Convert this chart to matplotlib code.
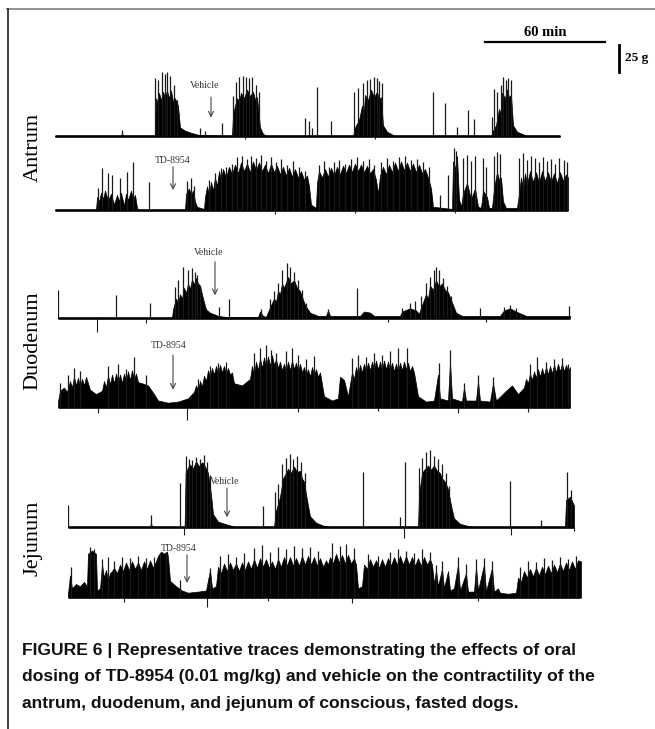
import matplotlib
matplotlib.use("Agg")
from matplotlib import pyplot as plt
from matplotlib.lines import Line2D

# figure size in pixels and scale of the recordings
W, H = 655, 729
PX_PER_MIN = 2.0
PX_PER_G = 1.08
T_MAX = 260
G_LOW, G_HIGH = -15, 75

# ---- data: (time min, force g) ----
# dense envelope of contractions, isolated spikes, downward deflections

ant_veh_len = 252.5
ant_veh_env = [(0, 0), (33, 0), (33.5, 3), (34, 0), (50, 0), (50.5, 35), (51.5, 30), (52, 40), (53, 33),
               (54, 41), (55, 36), (56, 42), (57, 35), (58, 42), (59, 32), (60, 35), (61.5, 28), (62.5, 8),
               (65, 5), (68, 3), (72, 1), (88.5, 0), (89, 20), (90, 28), (91, 35), (92, 32), (93, 40),
               (94.5, 35), (96, 43), (97.5, 37), (99, 41), (100, 34), (101, 36), (102.5, 8), (104, 2),
               (106, 0), (149, 0), (150, 8), (152, 15), (153.5, 28), (154.5, 24), (155, 38), (156.5, 33),
               (158, 43), (159.5, 36), (161, 41), (162, 34), (163, 36), (164, 10), (166, 4), (170, 0),
               (218, 0), (219, 5), (220.5, 10), (222, 25), (223, 20), (223.5, 40), (225, 35), (226, 43),
               (227, 36), (228, 38), (229, 10), (231, 4), (236, 0), (252.5, 0)]
ant_veh_spk = [(33.5, 5.5), (50, 54), (51.5, 52), (53.5, 59), (55, 57), (56, 59), (57.5, 56), (59.5, 47),
               (61, 33), (72.5, 7), (75, 5), (83.5, 12), (89, 37), (90.5, 50), (92, 55), (94, 56), (95.5, 55),
               (97, 54), (98.5, 55), (100.5, 47), (102, 41), (125, 17), (127, 14), (128.5, 7), (131, 45),
               (138, 14), (149.5, 41), (151.5, 44), (154, 49), (156, 52), (157.5, 53), (159.5, 55), (161, 54),
               (162, 51), (163.5, 49), (189, 41), (195, 30.5), (201, 8), (206.5, 24), (209.5, 16),
               (218.5, 17.6), (219.5, 43.5), (221, 41), (223, 47), (224, 55), (225.5, 52), (226.5, 53.7),
               (228, 52)]
ant_veh_dip = [(95, -3), (160, -3)]

ant_td_len = 256.5
ant_td_env = [(0, 0), (20.5, 0), (21, 12), (22, 8), (23, 16), (24, 10), (25, 18), (26.5, 9), (28, 15),
              (29.5, 5), (31, 14), (32, 8), (33, 16), (34.5, 4), (35.5, 15), (36.5, 9), (38, 18), (39, 10),
              (40, 14), (41, 2), (42, 0), (65, 0), (65.5, 15), (67, 20), (68, 14), (69, 18), (70, 8),
              (71, 3), (74.5, 1), (75, 12), (76, 22), (77, 14), (78, 26), (79, 18), (80, 30), (81, 22),
              (82, 36), (83, 28), (84, 38), (85.5, 30), (87, 40), (88.5, 33), (90, 42), (91.5, 34), (93, 44),
              (94.5, 36), (96, 43), (97.5, 35), (99, 45), (100.5, 37), (102, 44), (103.5, 36), (105, 42),
              (106.5, 34), (108, 43), (109.5, 35), (111, 41), (112.5, 33), (114, 40), (115.5, 32), (117, 39),
              (118.5, 31), (120, 38), (121.5, 30), (123, 36), (124.5, 28), (126, 32), (127, 22), (128, 5),
              (130.5, 2), (131, 25), (132, 36), (133.5, 30), (135, 38), (136.5, 31), (138, 39), (139.5, 32),
              (141, 40), (142.5, 33), (144, 41), (145.5, 34), (147, 42), (148.5, 35), (150, 43),
              (151.5, 36), (153, 42), (154.5, 35), (156, 41), (157.5, 34), (159, 38), (160.5, 28),
              (161.5, 15), (162.5, 32), (164, 40), (165.5, 33), (167, 42), (168.5, 35), (170, 44),
              (171.5, 36), (173, 45), (174.5, 37), (176, 44), (177.5, 36), (179, 43), (180.5, 35), (182, 42),
              (183.5, 34), (185, 38), (186.5, 30), (188, 20), (189, 3), (198.5, 1), (199, 45), (200, 38),
              (201, 50), (202, 10), (203, 3), (204, 15), (206, 25), (208, 10), (210, 20), (211.5, 3), (213, 2),
              (214, 18), (216, 12), (217, 2), (218.5, 2), (219.5, 20), (221, 35), (222, 28), (223, 30),
              (224, 8), (225.5, 2), (231, 2), (232, 15), (233, 30), (234, 20), (235, 34), (236, 24),
              (237.5, 36), (239, 26), (240.5, 35), (242, 25), (243.5, 36), (245, 27), (246.5, 35), (248, 26),
              (249.5, 34), (251, 25), (252.5, 35), (254, 27), (255.5, 33), (256.5, 30)]
ant_td_spk = [(21.5, 20), (23.5, 39), (26.5, 34), (28.5, 32), (32.5, 30), (36, 35), (39, 44), (47, 26),
              (66, 27), (68, 30), (69.5, 22), (77, 28), (80, 34), (83, 39), (85.5, 40), (88.5, 43), (91, 49),
              (93.5, 50), (96, 47), (98, 50), (100.5, 48), (103, 51), (105.5, 45), (108, 49), (110.5, 44),
              (113, 47), (116, 42), (119, 45), (122, 40), (125, 36), (132, 42), (134.5, 45), (137, 40),
              (139.5, 44), (142, 46), (145, 43), (148, 47), (151, 49), (154, 45), (157, 47), (159.5, 42),
              (163, 44), (166, 48), (169, 45), (172, 49), (175, 50), (178, 46), (181, 47), (184, 44),
              (187, 40), (192.5, 14), (196.5, 32), (199.5, 57), (200.5, 55), (204, 48), (206, 51), (208, 45),
              (210, 50), (214, 48), (215.5, 40), (219.5, 50), (221, 54), (222.5, 52), (232, 48), (234, 53),
              (236, 46), (238, 50), (240, 48), (242, 44), (244, 49), (246, 45), (248, 47), (250, 43),
              (252, 48), (254.5, 46), (256, 44)]
ant_td_dip = [(110, -4), (150, -3), (200, -3)]

duo_veh_len = 256
duo_veh_env = [(0, 0), (57, 0), (57.5, 8), (59, 18), (60, 14), (61, 22), (62, 18), (63, 28), (64, 23),
               (65, 32), (66, 27), (67, 36), (68, 31), (69, 37), (70, 32), (71, 30), (72.5, 18), (74, 8),
               (76, 5), (80, 2), (84, 1), (100, 1), (101, 6), (102.5, 2), (104, 1), (106, 10), (108, 18),
               (109, 15), (110, 25), (111, 22), (112, 32), (113, 28), (115, 38), (116.5, 32), (118, 35),
               (119.5, 28), (121, 25), (123.5, 12), (126, 5), (130, 2), (134, 2), (135, 7), (136, 2), (151, 2),
               (153, 6), (156, 5), (158, 2), (171, 2), (172, 6), (176, 9), (179, 7), (180.5, 4), (182, 12),
               (184, 22), (185, 18), (186, 30), (187.5, 26), (189, 35), (190.5, 29), (192, 32), (193.5, 26),
               (195, 24), (197.5, 12), (199, 5), (202, 2), (221, 2), (223, 7), (226, 9), (229, 6), (234, 2),
               (256, 2)]
duo_veh_spk = [(0, 26), (29, 21), (46, 14), (58.5, 29), (60, 35), (62.5, 47), (65, 44), (67, 46), (68.5, 43),
               (69.5, 40), (71, 30), (80.5, 10), (85.5, 18), (101.5, 8), (106, 18), (108, 25), (110, 32),
               (112, 44), (114.5, 51), (116, 47), (118, 43), (120, 35), (122, 26), (124, 14), (135, 8),
               (149.5, 28), (172, 9), (176, 14), (178.5, 16), (181.5, 20), (184, 32), (186, 38), (188, 44),
               (189, 47), (190.5, 44), (192.5, 37), (194.5, 30), (196.5, 20), (211, 9), (223, 10), (226, 12),
               (229, 9), (255.5, 11)]
duo_veh_dip = [(19.5, -13), (44, -5), (165, -4), (214, -4)]

duo_td_len = 256
duo_td_env = [(0, 5), (1, 15), (3, 18), (4.5, 14), (6, 24), (7, 18), (8, 28), (9, 20), (10, 27), (11, 19),
              (12, 26), (13, 20), (14, 28), (15, 22), (16, 16), (19, 12), (22, 15), (23, 24), (24, 18),
              (25, 29), (26, 21), (27, 30), (28, 22), (29, 31), (30, 23), (31, 30), (32, 22), (33, 31),
              (34, 24), (35, 33), (36, 25), (37, 34), (38, 26), (39, 31), (40, 23), (42, 22), (45, 20),
              (48, 12), (50, 6), (55, 4), (60, 5), (65, 8), (68, 14), (69, 20), (70, 16), (71, 24), (72, 19),
              (73, 29), (74, 24), (75, 34), (76, 28), (77, 36), (78, 30), (79, 38), (80, 31), (81, 39),
              (82, 32), (83, 38), (84, 31), (85, 36), (86, 30), (87, 32), (88, 22), (92, 20), (96, 26),
              (97, 38), (98, 30), (99, 42), (100, 34), (101, 45), (102, 36), (103, 46), (104, 37), (105, 47),
              (106, 38), (107, 48), (108, 39), (109, 44), (110, 36), (111, 42), (112, 34), (113, 40),
              (114, 33), (115, 42), (116, 34), (117, 43), (118, 35), (119, 41), (120, 33), (121, 40),
              (122, 32), (123, 37), (124, 30), (125, 35), (126, 28), (127, 37), (128, 30), (129, 35),
              (130, 28), (131, 32), (133, 10), (137, 6), (140, 8), (141, 28), (143, 25), (145, 10), (147, 32),
              (148, 26), (149, 37), (150, 30), (151, 39), (152, 32), (153, 40), (154, 33), (155, 41),
              (156, 34), (157, 42), (158, 35), (159, 43), (160, 35), (161, 42), (162, 34), (163, 43),
              (164, 35), (165, 42), (166, 34), (167, 41), (168, 33), (169, 40), (170, 33), (171, 41),
              (172, 34), (173, 42), (174, 35), (175, 41), (176, 33), (177, 38), (178, 32), (180, 10),
              (184, 5), (188, 6), (190, 30), (191, 8), (195, 6), (196, 42), (197, 8), (202, 5), (203, 18),
              (204, 6), (209, 6), (210, 24), (211, 6), (216, 5), (217.5, 22), (219, 6), (224, 15), (227, 20),
              (230, 12), (233, 18), (234, 26), (235, 22), (236, 31), (237, 25), (238, 33), (239, 27),
              (240, 35), (241, 28), (242, 36), (243, 29), (244, 37), (245, 30), (246, 38), (247, 31),
              (248, 39), (249, 32), (250, 40), (251, 33), (252, 40), (253, 33), (254, 39), (255, 33),
              (256, 37)]
duo_td_spk = [(1, 22), (5, 30), (8, 36), (11, 33), (25, 38), (30, 40), (34, 35), (38, 46), (44, 30), (70, 26),
              (76, 38), (80, 41), (84, 42), (98, 50), (101, 55), (104, 57), (106.5, 53), (109, 50), (114, 52),
              (117, 55), (120, 48), (124, 44), (128, 47), (147, 45), (150, 48), (154, 46), (158, 50),
              (162, 48), (166, 52), (170, 55), (174.5, 55), (190.5, 41), (196, 53), (203, 22), (210, 30),
              (217.5, 28), (236, 40), (239.5, 46), (244, 42), (248, 44), (252, 45), (255, 40)]
duo_td_dip = [(20, -6), (64.5, -12), (120, -5), (160, -4), (200, -6), (235, -5)]

jej_veh_len = 253
jej_veh_env = [(0, 0), (41, 0), (41.5, 4), (42, 0), (58.3, 0), (58.8, 50), (60, 55), (61, 58), (62.5, 54),
               (64, 61), (65.5, 56), (67, 60), (68, 58), (69, 54), (70, 50), (71.5, 30), (72.5, 12), (75, 5),
               (80, 2), (84, 0), (103, 0), (104, 15), (106, 28), (107.5, 45), (109, 50), (110, 54),
               (111.5, 50), (113, 56), (114.5, 51), (116, 52), (117, 45), (118, 42), (119.5, 25), (121, 10),
               (124, 4), (128, 1), (131, 0), (175, 0), (175.5, 30), (177, 50), (178.5, 54), (180, 57),
               (181.5, 53), (183, 57), (184.5, 52), (186, 50), (187, 45), (188.5, 42), (190, 35),
               (191.5, 20), (193, 8), (196, 3), (200, 1), (203, 0), (248.5, 0), (249, 25), (251, 28),
               (253, 20)]
jej_veh_spk = [(0, 20), (41.5, 11), (56, 41), (59, 66), (60.5, 63), (62, 62), (64, 65), (66, 63), (68, 67),
               (69.5, 60), (71, 48), (97.5, 19), (103.5, 32), (105, 40), (107, 58), (109, 64), (111, 68),
               (112.5, 63), (114.5, 66), (116.5, 60), (118.5, 50), (147.5, 51), (166, 9), (168.5, 60),
               (175.5, 55), (177, 64), (179, 69), (181, 71), (183, 66), (185, 63), (187, 58), (189, 50),
               (190.5, 38), (221, 43), (236.5, 6.5), (249.5, 51), (251.5, 34)]
jej_veh_dip = [(58, -7.5), (168, -10), (221.3, -7.5), (253, -4)]

jej_td_len = 256.5
jej_td_env = [(0, 3), (1, 20), (2, 8), (4, 12), (6, 10), (8, 14), (9.5, 10), (10, 40), (12, 43), (14, 40),
              (14.5, 6), (16, 8), (17, 30), (18, 18), (19, 25), (20, 15), (21, 22), (22, 24), (23, 27),
              (24.5, 22), (26, 30), (27.5, 24), (29, 32), (30.5, 25), (32, 33), (33.5, 26), (35, 32),
              (36.5, 25), (38, 33), (39.5, 26), (41, 34), (42.5, 27), (44, 33), (45, 38), (46.5, 42),
              (48, 40), (49.5, 42), (50, 37), (51, 15), (54, 10), (57, 6), (60, 4), (65, 5), (69, 6), (71, 25),
              (72, 8), (74, 10), (75, 28), (76.5, 22), (78, 31), (79.5, 24), (81, 32), (82.5, 25), (84, 31),
              (85.5, 24), (87, 32), (88.5, 25), (90, 33), (91.5, 26), (93, 35), (94.5, 27), (96, 36),
              (97.5, 28), (99, 35), (100.5, 27), (102, 33), (103.5, 26), (105, 35), (106.5, 28), (108, 37),
              (109.5, 29), (111, 37), (112.5, 29), (114, 36), (115.5, 29), (117, 38), (118.5, 30), (120, 38),
              (121.5, 30), (123, 37), (124.5, 29), (126, 36), (127.5, 28), (129, 34), (130, 30), (131, 37),
              (132.5, 31), (134, 40), (135.5, 32), (137, 39), (138.5, 31), (140, 39), (141.5, 31), (143, 36),
              (144, 30), (145, 8), (147, 10), (148, 30), (149.5, 26), (151, 35), (152.5, 28), (154, 34),
              (155.5, 27), (157, 35), (158.5, 28), (160, 36), (161.5, 29), (163, 37), (164.5, 30), (166, 38),
              (167.5, 30), (169, 38), (170.5, 30), (172, 37), (173.5, 29), (175, 36), (176.5, 29), (178, 37),
              (179.5, 30), (181, 35), (182, 30), (183, 12), (184, 25), (185, 10), (187, 26), (188, 8),
              (190, 24), (191, 6), (193, 8), (195, 30), (196, 6), (199, 22), (200, 5), (203, 5), (204, 28),
              (205, 6), (208, 30), (209, 5), (212, 27), (213, 5), (215, 8), (216, 4), (220, 3), (224, 4),
              (225, 18), (226.5, 14), (228, 24), (229.5, 18), (231, 26), (232.5, 19), (234, 27), (235.5, 20),
              (237, 28), (238.5, 21), (240, 29), (241.5, 22), (243, 30), (244.5, 23), (246, 31), (247.5, 24),
              (249, 32), (250.5, 25), (252, 33), (253.5, 26), (255, 34), (256.5, 33)]
jej_td_spk = [(1.5, 28), (11, 46), (13, 44), (17, 35), (20, 37), (23, 33), (27, 37), (31, 36), (35, 38),
              (39, 36), (43, 37), (46, 40), (49, 41), (56, 16), (71, 27), (76, 38), (80, 40), (84, 37),
              (88, 41), (93, 45), (97, 48), (101, 42), (105, 46), (109, 44), (113, 47), (117, 45), (121, 46),
              (125, 43), (132, 50), (136, 47), (139, 49), (143, 45), (150, 40), (155, 38), (161, 42),
              (165, 44), (169, 43), (173, 41), (177, 44), (181, 42), (184, 30), (187, 33), (195, 37),
              (199, 31), (204, 35), (208, 36), (212, 33), (226, 28), (230, 33), (234, 32), (238, 36),
              (242, 34), (246, 37), (250, 35), (254, 38)]
jej_td_dip = [(28, -5), (69.5, -9), (100, -4), (142, -6), (205, -4)]

# time of each dosing arrow, min
dose_times = {'ant_veh': 78, 'ant_td': 59, 'duo_veh': 78.5, 'duo_td': 57.5, 'jej_veh': 79.5, 'jej_td': 59.5}

# trace origins on the page (left px, baseline px)
origins = {'ant_veh': (55, 136), 'ant_td': (55, 210), 'duo_veh': (58, 318), 'duo_td': (58, 407),
           'jej_veh': (68, 527), 'jej_td': (68, 597)}

traces = {
    'ant_veh': (ant_veh_len, ant_veh_env, ant_veh_spk, ant_veh_dip),
    'ant_td': (ant_td_len, ant_td_env, ant_td_spk, ant_td_dip),
    'duo_veh': (duo_veh_len, duo_veh_env, duo_veh_spk, duo_veh_dip),
    'duo_td': (duo_td_len, duo_td_env, duo_td_spk, duo_td_dip),
    'jej_veh': (jej_veh_len, jej_veh_env, jej_veh_spk, jej_veh_dip),
    'jej_td': (jej_td_len, jej_td_env, jej_td_spk, jej_td_dip),
}

# arrow geometry (tail g, tip g, label g, label offset min)
arrows = {'ant_veh': (36, 17, 47, -3), 'ant_td': (40, 18.5, 46, 0), 'duo_veh': (52, 21, 61, -3),
          'duo_td': (48, 16, 57, -2), 'jej_veh': (36, 9, 42, -1), 'jej_td': (39, 13, 45, -4)}

SERIF = ['Liberation Serif', 'DejaVu Serif']

fig = plt.figure(figsize=(W / 100, H / 100), dpi=100)


def trace_axes(x0, y0):
    """Axes whose data units are minutes and grams, baseline at pixel row y0."""
    bottom = (H - y0 - (-G_LOW) * PX_PER_G) / H
    height = (G_HIGH - G_LOW) * PX_PER_G / H
    ax = fig.add_axes([x0 / W, bottom, T_MAX * PX_PER_MIN / W, height])
    ax.set_xlim(0, T_MAX)
    ax.set_ylim(G_LOW, G_HIGH)
    ax.axis('off')
    return ax


axes = {}
for key, (length, env, spk, dip) in traces.items():
    ax = trace_axes(*origins[key])
    axes[key] = ax
    et, eg = zip(*env)
    ax.fill_between(et, 0, eg, color='black', lw=0.5)
    ax.plot([0, length], [0, 0], color='black', lw=1.9, solid_capstyle='butt')
    st, sg = zip(*spk)
    ax.vlines(st, 0, sg, color='#1a1a1a', lw=0.9)
    dt, dg = zip(*dip)
    ax.vlines(dt, 0, dg, color='#1a1a1a', lw=0.8)

    tail, tip, lab_g, lab_dt = arrows[key]
    t_dose = dose_times[key]
    ax.annotate('', xy=(t_dose, tip), xytext=(t_dose, tail),
                arrowprops=dict(arrowstyle='->', color='#444444', lw=0.8,
                                shrinkA=0, shrinkB=0, mutation_scale=9))
    label = 'Vehicle' if key.endswith('veh') else 'TD-8954'
    ax.text(t_dose + lab_dt, lab_g, label, ha='center', va='center', fontsize=7,
            family=SERIF, color='#333333')

# scale bars, drawn in the units of the first trace
ax = axes['ant_veh']
ax.plot([215, 215 + 60], [87, 87], color='black', lw=1.6, clip_on=False)
ax.text(215 + 30, 96, '60 min', ha='center', va='center', fontsize=10.5,
        fontweight='bold', family=SERIF)
ax.plot([282, 282], [59.3, 59.3 + 25], color='black', lw=2.0, clip_on=False)
ax.text(285, 72, '25 g', ha='left', va='center', fontsize=9.5, fontweight='bold', family=SERIF)

# region labels
for name, yc in [('Antrum', 147), ('Duodenum', 341), ('Jejunum', 538)]:
    fig.text(33 / W, 1 - yc / H, name, rotation=90, ha='center', va='center',
             fontsize=16, family=SERIF)

# panel frame
fig.add_artist(Line2D([7 / W, 1], [1 - 8.5 / H, 1 - 8.5 / H], color='#8a8a8a', lw=1.3,
                      transform=fig.transFigure))
fig.add_artist(Line2D([7.5 / W, 7.5 / W], [0, 1 - 8.5 / H], color='#222222', lw=1.2,
                      transform=fig.transFigure))

caption = ("FIGURE 6 | Representative traces demonstrating the effects of oral\n"
           "dosing of TD-8954 (0.01 mg/kg) and vehicle on the contractility of the\n"
           "antrum, duodenum, and jejunum of conscious, fasted dogs.")
fig.text(22 / W, 1 - 643 / H, caption, ha='left', va='top', fontsize=12.6, fontweight='bold',
         family=['Liberation Sans Narrow', 'Liberation Sans', 'DejaVu Sans'],
         linespacing=1.95, color='#111111')

fig.savefig('out.png', dpi=100)
